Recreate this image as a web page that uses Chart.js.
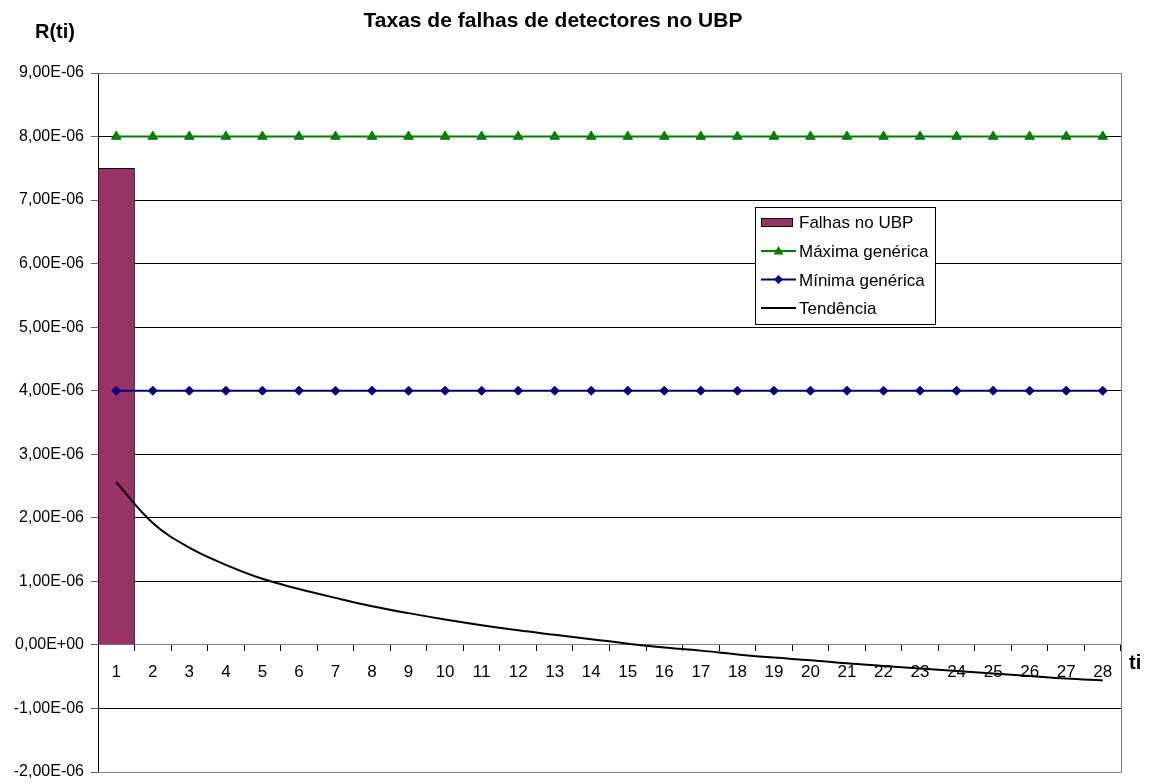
<!DOCTYPE html>
<html>
<head>
<meta charset="utf-8">
<script src="https://cdn.jsdelivr.net/npm/chart.js@4.4.1/dist/chart.umd.min.js"></script>
<style>
  html, body { margin: 0; padding: 0; background: #fff; }
  #wrap { width: 1155px; height: 784px; }
</style>
</head>
<body>
<div id="wrap"><canvas id="chart" width="1155" height="784"></canvas></div>
<script>
// ── DATA ─────────────────────────────────────────────────────────
const categorias = ['1','2','3','4','5','6','7','8','9','10','11','12','13','14',
                    '15','16','17','18','19','20','21','22','23','24','25','26','27','28'];

const falhasUBP = [7.5e-6, null, null, null, null, null, null, null, null, null, null, null, null, null,
                   null, null, null, null, null, null, null, null, null, null, null, null, null, null];

const maximaGenerica = [8e-6, 8e-6, 8e-6, 8e-6, 8e-6, 8e-6, 8e-6, 8e-6, 8e-6, 8e-6, 8e-6, 8e-6, 8e-6, 8e-6,
                        8e-6, 8e-6, 8e-6, 8e-6, 8e-6, 8e-6, 8e-6, 8e-6, 8e-6, 8e-6, 8e-6, 8e-6, 8e-6, 8e-6];

const minimaGenerica = [4e-6, 4e-6, 4e-6, 4e-6, 4e-6, 4e-6, 4e-6, 4e-6, 4e-6, 4e-6, 4e-6, 4e-6, 4e-6, 4e-6,
                        4e-6, 4e-6, 4e-6, 4e-6, 4e-6, 4e-6, 4e-6, 4e-6, 4e-6, 4e-6, 4e-6, 4e-6, 4e-6, 4e-6];

const tendencia = [2.56e-6, 1.92e-6, 1.53e-6, 1.26e-6, 1.04e-6, 0.88e-6, 0.74e-6, 0.61e-6, 0.50e-6, 0.40e-6,
                   0.31e-6, 0.23e-6, 0.16e-6, 0.09e-6, 0.02e-6, -0.04e-6, -0.09e-6, -0.15e-6, -0.20e-6, -0.24e-6,
                   -0.29e-6, -0.33e-6, -0.37e-6, -0.41e-6, -0.45e-6, -0.49e-6, -0.53e-6, -0.56e-6];

const serieNomes = ['Falhas no UBP', 'Máxima genérica', 'Mínima genérica', 'Tendência'];
const yMin = -2e-6, yMax = 9e-6, yStep = 1e-6;
const titulo = 'Taxas de falhas de detectores no UBP';
const tituloY = 'R(ti)';
const tituloX = 'ti';

// ── STYLE ────────────────────────────────────────────────────────
const FONT = '"Liberation Sans", Arial, sans-serif';
const cBar = '#993366', cMax = '#008000', cMin = '#000080', cTrend = '#000000';

function fmtSci(v) {
  if (Math.abs(v) < 1e-15) return '0,00E+00';
  const [m, e] = v.toExponential(2).split('e');
  const ex = parseInt(e, 10);
  return m.replace('.', ',') + 'E' + (ex < 0 ? '-' : '+') + String(Math.abs(ex)).padStart(2, '0');
}

// frame, legend box and free texts
const decor = {
  id: 'decor',
  beforeDatasetsDraw(chart) {
    const { ctx, chartArea: a } = chart;
    ctx.save();
    ctx.strokeStyle = '#808080';
    ctx.lineWidth = 1;
    ctx.beginPath();
    ctx.moveTo(a.left, a.top + 0.5);
    ctx.lineTo(a.right + 0.5, a.top + 0.5);
    ctx.lineTo(a.right + 0.5, a.bottom + 0.5);
    ctx.lineTo(a.left, a.bottom + 0.5);
    ctx.stroke();
    ctx.restore();
  },
  afterDraw(chart) {
    const { ctx } = chart;
    ctx.save();
    ctx.fillStyle = '#000';
    ctx.textBaseline = 'alphabetic';

    ctx.font = 'bold 21px ' + FONT;
    ctx.textAlign = 'center';
    ctx.fillText(titulo, 553, 27);

    ctx.font = 'bold 20px ' + FONT;
    ctx.textAlign = 'left';
    ctx.fillText(tituloY, 35, 38);
    ctx.fillText(tituloX, 1129, 669);

    // legend box
    const bx = 755.5, by = 207.5, bw = 180, bh = 117;
    ctx.fillStyle = '#fff';
    ctx.fillRect(bx, by, bw, bh);
    ctx.strokeStyle = '#000';
    ctx.lineWidth = 1;
    ctx.strokeRect(bx, by, bw, bh);

    const rows = [228, 257, 285.5, 314];
    ctx.font = '17px ' + FONT;
    ctx.textAlign = 'left';
    rows.forEach((yb, i) => {
      const yc = yb - 6;
      if (i === 0) {
        ctx.fillStyle = cBar;
        ctx.fillRect(761, yc - 4, 32, 9);
        ctx.strokeStyle = '#000';
        ctx.strokeRect(761.5, yc - 3.5, 31, 8);
      } else {
        const col = i === 1 ? cMax : i === 2 ? cMin : cTrend;
        ctx.strokeStyle = col;
        ctx.lineWidth = 2;
        ctx.beginPath();
        ctx.moveTo(761, yc);
        ctx.lineTo(796, yc);
        ctx.stroke();
        ctx.fillStyle = col;
        if (i === 1) {
          ctx.beginPath();
          ctx.moveTo(778.5, yc - 5);
          ctx.lineTo(783.5, yc + 3.5);
          ctx.lineTo(773.5, yc + 3.5);
          ctx.closePath();
          ctx.fill();
        } else if (i === 2) {
          ctx.beginPath();
          ctx.moveTo(778.5, yc - 4.5);
          ctx.lineTo(783, yc);
          ctx.lineTo(778.5, yc + 4.5);
          ctx.lineTo(774, yc);
          ctx.closePath();
          ctx.fill();
        }
      }
      ctx.fillStyle = '#000';
      ctx.fillText(serieNomes[i], 799, yb);
    });
    ctx.restore();
  }
};

new Chart(document.getElementById('chart'), {
  data: {
    labels: categorias,
    datasets: [
      { type: 'line', label: serieNomes[3], data: tendencia, borderColor: cTrend, borderWidth: 2,
        pointRadius: 0, tension: 0.4, fill: false, order: 1 },
      { type: 'line', label: serieNomes[2], data: minimaGenerica, borderColor: cMin, backgroundColor: cMin,
        borderWidth: 2, pointStyle: 'rectRot', pointRadius: 4.5, pointBorderWidth: 1, order: 2 },
      { type: 'line', label: serieNomes[1], data: maximaGenerica, borderColor: cMax, backgroundColor: cMax,
        borderWidth: 2, pointStyle: 'triangle', pointRadius: 5.5, pointBorderWidth: 1, order: 3 },
      { type: 'bar', label: serieNomes[0], data: falhasUBP, backgroundColor: cBar, borderColor: '#000',
        borderWidth: 1, barPercentage: 1, categoryPercentage: 1, order: 4 }
    ]
  },
  options: {
    responsive: false,
    animation: false,
    devicePixelRatio: 1,
    events: [],
    layout: { padding: { left: 0, right: 34, top: 73, bottom: 12 } },
    plugins: { legend: { display: false }, title: { display: false }, tooltip: { enabled: false } },
    scales: {
      x: {
        type: 'category',
        position: { y: 0 },
        offset: true,
        grid: { display: true, drawOnChartArea: false, drawTicks: true, tickLength: 6, color: '#000', offset: true },
        border: { display: true, color: '#808080', width: 1 },
        ticks: { color: '#000', font: { family: FONT, size: 17 }, padding: 11, maxRotation: 0, autoSkip: false }
      },
      y: {
        min: yMin, max: yMax,
        afterFit: s => { s.width = 98; s.paddingTop = 0; s.paddingBottom = 0; },
        grid: {
          color: c => (c.index === 0 || c.index === 11) ? '#808080' : '#000',
          tickColor: '#606060', tickLength: 7
        },
        border: { display: true, color: '#000', width: 1 },
        ticks: { stepSize: yStep, color: '#000', font: { family: FONT, size: 16 }, padding: 7,
                 callback: v => fmtSci(v) }
      }
    }
  },
  plugins: [decor]
});
</script>
</body>
</html>
